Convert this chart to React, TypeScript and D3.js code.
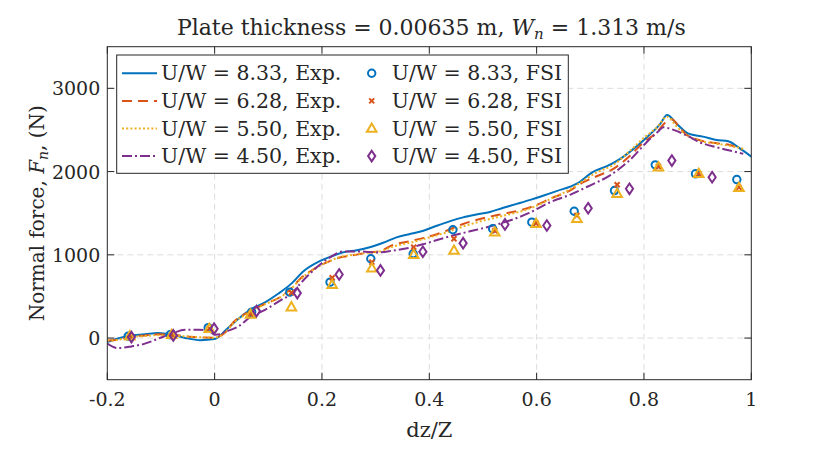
import React, { useEffect, useRef } from "react";
import * as d3 from "d3";

// experimental curves, [dz/Z, force N]
const exp833 = [
  [-0.2, -48], [-0.18, -5], [-0.16, 25], [-0.13, 45], [-0.105, 62], [-0.08, 42], [-0.055, 2],
  [-0.027, -25], [0, -12], [0.01, 30], [0.02, 90], [0.044, 230], [0.069, 350], [0.094, 430],
  [0.119, 535], [0.144, 660], [0.165, 800], [0.193, 915], [0.215, 975], [0.24, 1030],
  [0.265, 1055], [0.289, 1090], [0.314, 1145], [0.339, 1210], [0.364, 1250], [0.389, 1290],
  [0.414, 1350], [0.439, 1405], [0.463, 1450], [0.488, 1485], [0.513, 1515], [0.538, 1565],
  [0.563, 1612], [0.588, 1660], [0.612, 1710], [0.637, 1765], [0.675, 1855], [0.706, 2000],
  [0.731, 2065], [0.755, 2150], [0.78, 2270], [0.805, 2410], [0.83, 2570], [0.843, 2680],
  [0.861, 2575], [0.883, 2455], [0.91, 2420], [0.935, 2380], [0.957, 2365], [0.976, 2290],
  [1.0, 2180],
];
const exp628 = [
  [-0.2, -30], [-0.18, -18], [-0.16, 15], [-0.13, 32], [-0.105, 45], [-0.08, 40], [-0.055, 22],
  [-0.027, 8], [0, 5], [0.02, 70], [0.035, 190], [0.066, 320], [0.09, 400], [0.122, 492],
  [0.14, 580], [0.159, 710], [0.185, 830], [0.209, 910], [0.235, 970], [0.258, 995],
  [0.289, 1030], [0.308, 1045], [0.333, 1120], [0.37, 1172], [0.4, 1220], [0.43, 1285],
  [0.463, 1370], [0.5, 1440], [0.538, 1493], [0.575, 1545], [0.6, 1600], [0.625, 1673],
  [0.662, 1772], [0.687, 1872], [0.712, 1944], [0.743, 2033], [0.774, 2190], [0.799, 2350],
  [0.824, 2470], [0.84, 2590], [0.852, 2630], [0.861, 2575], [0.877, 2455], [0.905, 2375],
  [0.936, 2340], [0.96, 2320], [0.982, 2260],
];
const exp550 = [
  [-0.2, -30], [-0.18, -20], [-0.16, 10], [-0.13, 25], [-0.105, 35], [-0.08, 30], [-0.055, 20],
  [-0.027, 10], [0, 5], [0.02, 70], [0.035, 180], [0.066, 310], [0.09, 395], [0.122, 490],
  [0.14, 575], [0.159, 700], [0.185, 825], [0.209, 910], [0.235, 975], [0.258, 1000],
  [0.289, 1025], [0.308, 1040], [0.333, 1100], [0.37, 1155], [0.4, 1210], [0.43, 1265],
  [0.463, 1340], [0.5, 1410], [0.538, 1470], [0.575, 1530], [0.6, 1590], [0.625, 1670],
  [0.662, 1785], [0.687, 1890], [0.712, 1990], [0.743, 2080], [0.774, 2250], [0.799, 2400],
  [0.824, 2530], [0.843, 2660], [0.861, 2540], [0.877, 2450], [0.905, 2370], [0.936, 2335],
  [0.96, 2310], [0.985, 2275],
];
const exp450 = [
  [-0.2, -65], [-0.18, -120], [-0.155, -100], [-0.13, -67], [-0.105, -7], [-0.08, 53],
  [-0.055, 100], [-0.03, 100], [-0.012, 92], [0, 41], [0.01, 45], [0.019, 72], [0.044, 140],
  [0.066, 250], [0.094, 340], [0.122, 450], [0.144, 540], [0.159, 650], [0.196, 880],
  [0.215, 970], [0.24, 1040], [0.271, 1040], [0.302, 1028], [0.333, 1052], [0.364, 1085],
  [0.395, 1140], [0.426, 1200], [0.457, 1253], [0.488, 1301], [0.519, 1352], [0.55, 1412],
  [0.585, 1500], [0.625, 1632], [0.662, 1721], [0.699, 1832], [0.736, 1952], [0.774, 2141],
  [0.805, 2352], [0.827, 2484], [0.836, 2532], [0.855, 2501], [0.88, 2432], [0.904, 2352],
  [0.935, 2292], [0.96, 2252], [0.985, 2213],
];

// FSI results
const fsi833X = [-0.161, -0.083, -0.012, 0.069, 0.14, 0.215, 0.291, 0.37, 0.444, 0.518, 0.591, 0.67, 0.745, 0.821, 0.896, 0.973];
const fsi833Y = [24, 40, 125, 312, 552, 672, 953, 1013, 1301, 1313, 1392, 1524, 1772, 2081, 1973, 1904];
const fsiMidX = [-0.158, -0.08, -0.01, 0.067, 0.143, 0.219, 0.293, 0.371, 0.446, 0.522, 0.599, 0.675, 0.75, 0.827, 0.902, 0.977];
const fsi628Y = [24, 40, 115, 290, 545, 725, 912, 1093, 1193, 1290, 1380, 1473, 1841, 2060, 1975, 1810];
const fsi550Y = [24, 40, 113, 284, 372, 641, 840, 1001, 1052, 1272, 1373, 1433, 1733, 2052, 1973, 1805];
const fsi450X = [-0.155, -0.077, -0.001, 0.078, 0.154, 0.232, 0.309, 0.388, 0.463, 0.541, 0.619, 0.696, 0.773, 0.852, 0.927];
const fsi450Y = [12, 32, 113, 324, 540, 764, 813, 1037, 1140, 1365, 1352, 1560, 1793, 2132, 1932];

const xTicks = [-0.2, 0, 0.2, 0.4, 0.6, 0.8, 1];
const xTickLabels = ["-0.2", "0", "0.2", "0.4", "0.6", "0.8", "1"];
const yTicks = [0, 1000, 2000, 3000];

const ratios = ["8.33", "6.28", "5.50", "4.50"];
const colors = ["#0072BD", "#D95319", "#EDB120", "#7E2F8E"];
const dashes = [null, "10,6", "2,2.2", "10,3,2,3"];

const FONT = "'DejaVu Serif', serif";
const INK = "#262626";

const App = () => {
  const ref = useRef(null);

  useEffect(() => {
    document.body.style.margin = "0";
    const width = 830;
    const height = 457;
    const margin = { top: 46.7, right: 78.7, bottom: 77.3, left: 107.3 };

    const svg = d3.select(ref.current);
    svg.selectAll("*").remove();
    svg.attr("width", width).attr("height", height).attr("viewBox", [0, 0, width, height]);

    const x = d3.scaleLinear().domain([-0.2, 1]).range([margin.left, width - margin.right]);
    const y = d3.scaleLinear().domain([-500, 3500]).range([height - margin.bottom, margin.top]);
    const [x0, x1] = x.range();
    const [y0, y1] = y.range();

    svg.append("rect").attr("width", width).attr("height", height).attr("fill", "#fff");

    svg
      .append("clipPath")
      .attr("id", "plot")
      .append("rect")
      .attr("x", x0)
      .attr("y", y1)
      .attr("width", x1 - x0)
      .attr("height", y0 - y1);

    // grid
    const grid = svg.append("g").attr("stroke", "#dcdcdc").attr("stroke-dasharray", "6,4");
    grid
      .selectAll("line.v")
      .data(xTicks.slice(1, -1))
      .join("line")
      .attr("x1", (d) => x(d))
      .attr("x2", (d) => x(d))
      .attr("y1", y0)
      .attr("y2", y1);
    grid
      .selectAll("line.h")
      .data(yTicks)
      .join("line")
      .attr("y1", (d) => y(d))
      .attr("y2", (d) => y(d))
      .attr("x1", x0)
      .attr("x2", x1);

    // exp lines
    const line = d3
      .line()
      .x((d) => x(d[0]))
      .y((d) => y(d[1]))
      .curve(d3.curveMonotoneX);
    const plot = svg.append("g").attr("clip-path", "url(#plot)");
    [exp833, exp628, exp550, exp450].forEach((s, i) => {
      plot
        .append("path")
        .datum(s)
        .attr("d", line)
        .attr("fill", "none")
        .attr("stroke", colors[i])
        .attr("stroke-width", 2)
        .attr("stroke-dasharray", dashes[i]);
    });

    // markers
    const drawMarker = (g, kind, cx, cy) => {
      if (kind === 0) {
        g.append("circle").attr("cx", cx).attr("cy", cy).attr("r", 3.7)
          .attr("fill", "none").attr("stroke", colors[0]).attr("stroke-width", 2);
      } else if (kind === 1) {
        g.append("path")
          .attr("d", `M${cx - 2.5},${cy - 2.5}L${cx + 2.5},${cy + 2.5}M${cx - 2.5},${cy + 2.5}L${cx + 2.5},${cy - 2.5}`)
          .attr("stroke", colors[1]).attr("stroke-width", 2);
      } else if (kind === 2) {
        g.append("path")
          .attr("d", `M${cx},${cy - 5}L${cx + 4.8},${cy + 3.3}L${cx - 4.8},${cy + 3.3}Z`)
          .attr("fill", "none").attr("stroke", colors[2]).attr("stroke-width", 2);
      } else {
        g.append("path")
          .attr("d", `M${cx},${cy - 5.3}L${cx + 3.6},${cy}L${cx},${cy + 5.3}L${cx - 3.6},${cy}Z`)
          .attr("fill", "none").attr("stroke", colors[3]).attr("stroke-width", 2);
      }
    };
    const fsi = [
      [fsi833X, fsi833Y],
      [fsiMidX, fsi628Y],
      [fsiMidX, fsi550Y],
      [fsi450X, fsi450Y],
    ];
    fsi.forEach(([xs, ys], k) => {
      const g = plot.append("g");
      ys.forEach((v, i) => drawMarker(g, k, x(xs[i]), y(v)));
    });

    // axes box and ticks
    const ax = svg.append("g").attr("stroke", INK).attr("stroke-width", 1).attr("fill", "none");
    ax.append("rect").attr("x", x0).attr("y", y1).attr("width", x1 - x0).attr("height", y0 - y1);
    const tl = 7;
    xTicks.forEach((t) => {
      ax.append("line").attr("x1", x(t)).attr("x2", x(t)).attr("y1", y0).attr("y2", y0 - tl);
      ax.append("line").attr("x1", x(t)).attr("x2", x(t)).attr("y1", y1).attr("y2", y1 + tl);
    });
    yTicks.forEach((t) => {
      ax.append("line").attr("y1", y(t)).attr("y2", y(t)).attr("x1", x0).attr("x2", x0 + tl);
      ax.append("line").attr("y1", y(t)).attr("y2", y(t)).attr("x1", x1).attr("x2", x1 - tl);
    });

    const txt = svg.append("g").attr("font-family", FONT).attr("fill", INK);
    xTicks.forEach((t, i) => {
      txt.append("text").attr("x", x(t)).attr("y", y0 + 26).attr("text-anchor", "middle")
        .attr("font-size", 19).text(xTickLabels[i]);
    });
    yTicks.forEach((t) => {
      txt.append("text").attr("x", x0 - 7).attr("y", y(t) + 7).attr("text-anchor", "end")
        .attr("font-size", 19).text(String(t));
    });

    // axis labels
    txt.append("text").attr("x", (x0 + x1) / 2).attr("y", 437).attr("text-anchor", "middle")
      .attr("font-size", 21).text("dz/Z");
    const yl = txt.append("text")
      .attr("transform", `translate(44,${(y0 + y1) / 2}) rotate(-90)`)
      .attr("text-anchor", "middle")
      .attr("font-size", 20);
    yl.append("tspan").text("Normal force, ");
    yl.append("tspan").attr("font-style", "italic").text("F");
    yl.append("tspan").attr("font-size", 14).attr("font-style", "italic").attr("dy", 4).text("n");
    yl.append("tspan").attr("dy", -4).text(", (N)");

    // title
    const title = txt.append("text").attr("x", (x0 + x1) / 2 + 2).attr("y", 35)
      .attr("text-anchor", "middle").attr("font-size", 22);
    title.append("tspan").text("Plate thickness = 0.00635 m, ");
    title.append("tspan").attr("font-style", "italic").text("W");
    title.append("tspan").attr("font-size", 15).attr("font-style", "italic").attr("dy", 4).text("n");
    title.append("tspan").attr("dy", -4).text(" = 1.313 m/s");

    // legend
    const lg = svg.append("g");
    lg.append("rect").attr("x", 116.7).attr("y", 55).attr("width", 451.6).attr("height", 118.3)
      .attr("fill", "#fff").attr("stroke", INK).attr("stroke-width", 1);
    ratios.forEach((r, i) => {
      const ry = 73.3 + i * 27.6;
      lg.append("line").attr("x1", 122).attr("x2", 157).attr("y1", ry).attr("y2", ry)
        .attr("stroke", colors[i]).attr("stroke-width", 2).attr("stroke-dasharray", dashes[i]);
      lg.append("text").attr("x", 161).attr("y", ry + 7).attr("font-family", FONT)
        .attr("font-size", 20.5).attr("fill", INK).text(`U/W = ${r}, Exp.`);
      drawMarker(lg, i, 371.7, ry);
      lg.append("text").attr("x", 391.7).attr("y", ry + 7).attr("font-family", FONT)
        .attr("font-size", 20.5).attr("fill", INK).text(`U/W = ${r}, FSI`);
    });
  }, []);

  return <svg ref={ref}></svg>;
};

export default App;
